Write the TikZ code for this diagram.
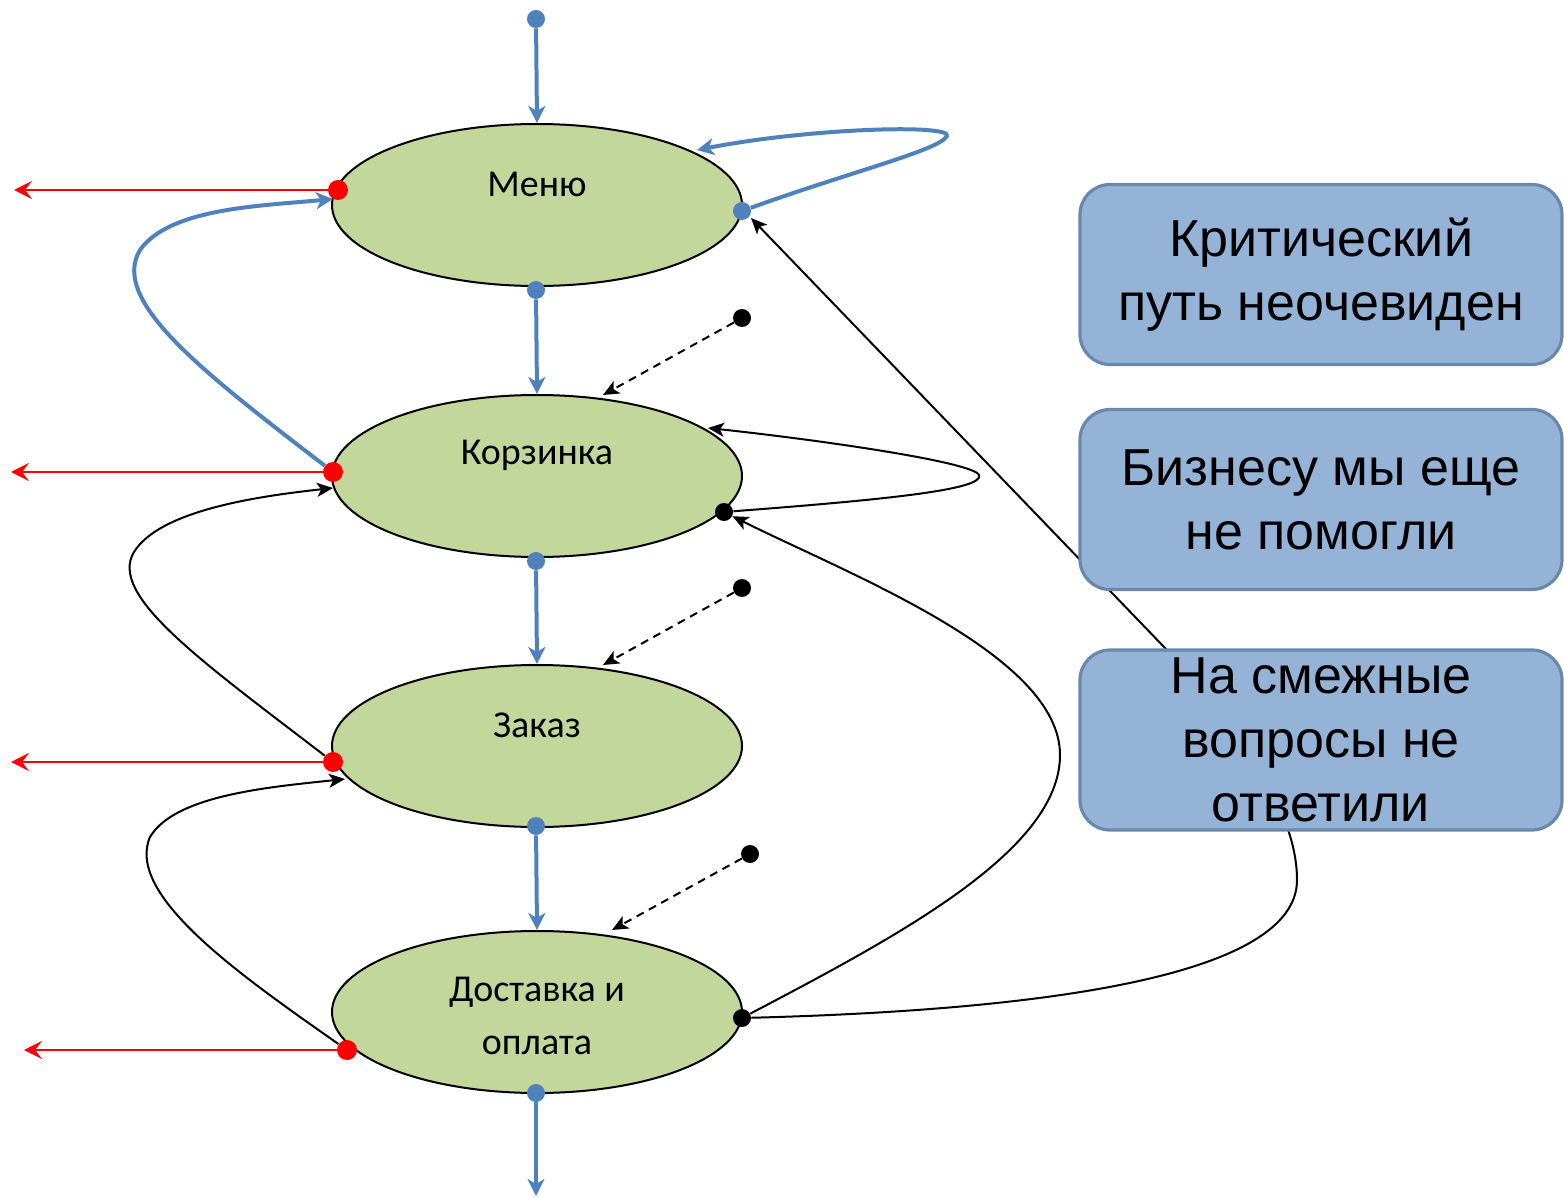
\documentclass[tikz,border=0pt]{standalone}
\usepackage{fontspec}
\setmainfont{Carlito}
\newfontfamily\boxfont{Liberation Sans}
\usetikzlibrary{arrows.meta,shapes.geometric}
\definecolor{ellfill}{HTML}{C3D69B}
\definecolor{boxfill}{HTML}{95B3D7}
\definecolor{boxline}{HTML}{6A88AC}
\definecolor{flowblue}{HTML}{4F81BD}
\definecolor{exitred}{HTML}{FF0000}
\begin{document}
\begin{tikzpicture}[x=0.5pt,y=-0.5pt,
 state/.style={ellipse, draw=black, line width=1pt, fill=ellfill, minimum width=205pt, minimum height=81pt, inner sep=0pt},
 lbl/.style={font=\fontsize{19}{26.5}\selectfont, align=center, text=black},
 note/.style={rectangle, rounded corners=15pt, draw=boxline, line width=1.6pt, fill=boxfill, minimum width=241pt, minimum height=90pt, align=center, font=\boxfont\fontsize{26}{32}\selectfont},
 bdot/.style={circle, fill=flowblue, inner sep=0pt, minimum size=9pt},
 rdot/.style={circle, fill=exitred, inner sep=0pt, minimum size=10pt},
 kdot/.style={circle, fill=black, inner sep=0pt, minimum size=9pt},
 flow/.style={draw=flowblue, line width=2pt, -{Stealth[length=8.5pt,width=8.5pt,inset=2.5pt]}},
 exit/.style={draw=exitred, line width=1.2pt, -{Stealth[length=9pt,width=9pt,inset=3.5pt]}},
 back/.style={draw=black, line width=1pt, -{Stealth[length=8pt,width=7pt,inset=2pt]}},
 hint/.style={back, dash pattern=on 4pt off 3pt}
]
\useasboundingbox (0,0) rectangle (1564,1198);

% states
\node[state] (menu) at (537,205) {};
\node[state] (korz) at (537,476) {};
\node[state] (zak)  at (537,746) {};
\node[state] (dost) at (537,1012) {};
\node[lbl] (menut) at (537,184) {Меню};
\node[lbl] (korzt) at (537,455) {Корзинка};
\node[lbl] (zakt)  at (537,725) {Заказ};
\node[lbl] (dostt) at (537,1016) {Доставка и\\оплата};

% dots
\node[bdot] (d0) at (536,19) {};
\node[bdot] (d1) at (536,290) {};
\node[bdot] (d2) at (536,561) {};
\node[bdot] (d3) at (536,826) {};
\node[bdot] (d4) at (536,1093) {};
\node[bdot] (dm) at (742,211) {};
\node[rdot] (r1) at (338,190) {};
\node[rdot] (r2) at (333,472) {};
\node[rdot] (r3) at (333,762) {};
\node[rdot] (r4) at (347,1050) {};
\node[kdot] (kk) at (724,512) {};
\node[kdot] (kd) at (742,1018) {};
\node[kdot] (h1) at (742,318) {};
\node[kdot] (h2) at (742,588) {};
\node[kdot] (h3) at (750,854) {};

% coordinates
\coordinate (bend) at (536,1196);
\coordinate (x1) at (14,190);
\coordinate (x2) at (11,472);
\coordinate (x3) at (11,762);
\coordinate (x4) at (24,1050);
\coordinate (mloopin) at (697,150);
\coordinate (mleftin) at (333,199);
\coordinate (kleftin) at (333,488);
\coordinate (zleftin) at (345,779);
\coordinate (kloopin) at (708,428);
\coordinate (mrightin) at (751,218);
\coordinate (kh1) at (603,395);
\coordinate (kh2) at (603,665);
\coordinate (kh3) at (612,930);

% main flow
\draw[flow] (d0) -- (menu.north);
\draw[flow] (d1) -- (korz.north);
\draw[flow] (d2) -- (zak.north);
\draw[flow] (d3) -- (dost.north);
\draw[flow] (d4) -- (bend);

% exits
\draw[exit] (r1) -- (x1);
\draw[exit] (r2) -- (x2);
\draw[exit] (r3) -- (x3);
\draw[exit] (r4) -- (x4);

% blue loops
\draw[flow] (dm) .. controls (850,172) and (940,150) .. (947,136)
  .. controls (952,124) and (810,128) .. (mloopin);
\draw[flow] (r2) .. controls (200,370) and (110,300) .. (140,250)
  .. controls (170,208) and (260,206) .. (mleftin);

% black back-links
\draw[back] (r3) .. controls (200,660) and (108,595) .. (134,552)
  .. controls (160,510) and (260,496) .. (kleftin);
\draw[back] (r4) .. controls (240,975) and (125,895) .. (150,837)
  .. controls (175,795) and (270,787) .. (zleftin);
\draw[back] (kk) .. controls (880,500) and (985,490) .. (979,475)
  .. controls (973,462) and (820,440) .. (kloopin);
\draw[back] (kd) .. controls (900,935) and (1060,850) .. (1060,755)
  .. controls (1060,655) and (850,575) .. (kk);
\draw[back] (kd) .. controls (1050,1010) and (1297,975) .. (1297,880)
  .. controls (1297,810) and (1240,735) .. (1165,648) -- (mrightin);

% hints
\draw[hint] (h1) -- (kh1);
\draw[hint] (h2) -- (kh2);
\draw[hint] (h3) -- (kh3);

% notes
\node[note] (n1) at (1321,274.5) {Критический\\путь неочевиден};
\node[note] (n2) at (1321,499.5) {Бизнесу мы еще\\не помогли};
\node[note] (n3) at (1321,740) {На смежные\\вопросы не\\ответили};
\end{tikzpicture}
\end{document}
